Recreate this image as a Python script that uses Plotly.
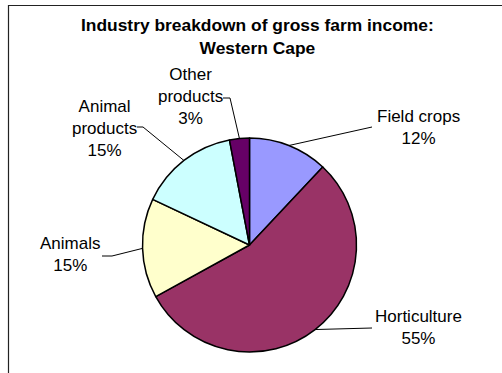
import math
import plotly.graph_objects as go

W, H = 502, 373

categories = ["Field crops", "Horticulture", "Animals", "Animal products", "Other products"]
values = [12, 55, 15, 15, 3]
colors = ["#9999FF", "#993366", "#FFFFCC", "#CCFFFF", "#660066"]
label_texts = ["Field crops<br>12%", "Horticulture<br>55%", "Animals<br>15%",
               "Animal<br>products<br>15%", "Other<br>products<br>3%"]

# layout (pixels)
cx, cy, R = 249.5, 245.0, 107.0
label_pos = [(418, 127), (418, 327), (70, 254), (104, 128), (190, 97)]
leader_ends = [[(372, 127)], [(372, 328)], [(112, 256), (102, 256)],
               [(143, 127), (137, 127)], [(230, 98), (223, 98)]]

def px(x):
    return x / W

def py(y):
    return 1 - y / H

fig = go.Figure(go.Pie(
    labels=categories, values=values, sort=False, direction="clockwise", rotation=0,
    marker=dict(colors=colors, line=dict(color="black", width=1.5)),
    textinfo="none", hoverinfo="label+percent", showlegend=False,
    domain=dict(x=[px(cx - R), px(cx + R)], y=[py(cy + R), py(cy - R)]),
))

shapes = []
# chart border (cropped at right/bottom)
shapes.append(dict(type="rect", xref="paper", yref="paper",
                   x0=px(8.5), x1=1.1, y0=-0.1, y1=py(5.5),
                   line=dict(color="#222222", width=1.2), fillcolor="rgba(0,0,0,0)"))

total = sum(values)
cum = 0
for i, v in enumerate(values):
    mid = (cum + v / 2) / total * 2 * math.pi
    cum += v
    sx = cx + R * math.sin(mid)
    sy = cy - R * math.cos(mid)
    pts = [(sx, sy)] + leader_ends[i]
    path = "M " + " L ".join(f"{px(x)},{py(y)}" for x, y in pts)
    shapes.append(dict(type="path", xref="paper", yref="paper", path=path,
                       line=dict(color="black", width=1)))

annotations = []
for (lx, ly), t in zip(label_pos, label_texts):
    annotations.append(dict(x=px(lx), y=py(ly), xref="paper", yref="paper",
                            text=t, showarrow=False, xanchor="center", yanchor="middle",
                            align="center",
                            font=dict(family="Liberation Sans, Arial", size=17, color="black")))

annotations.append(dict(x=px(257), y=py(36.5), xref="paper", yref="paper",
                        text="<b>Industry breakdown of gross farm income:<br>Western Cape</b>",
                        showarrow=False, xanchor="center", yanchor="middle", align="center",
                        font=dict(family="Liberation Sans, Arial", size=17.4, color="black")))

fig.update_layout(width=W, height=H, margin=dict(l=0, r=0, t=0, b=0),
                  paper_bgcolor="white", plot_bgcolor="white",
                  shapes=shapes, annotations=annotations)

fig.write_html("out.html")
